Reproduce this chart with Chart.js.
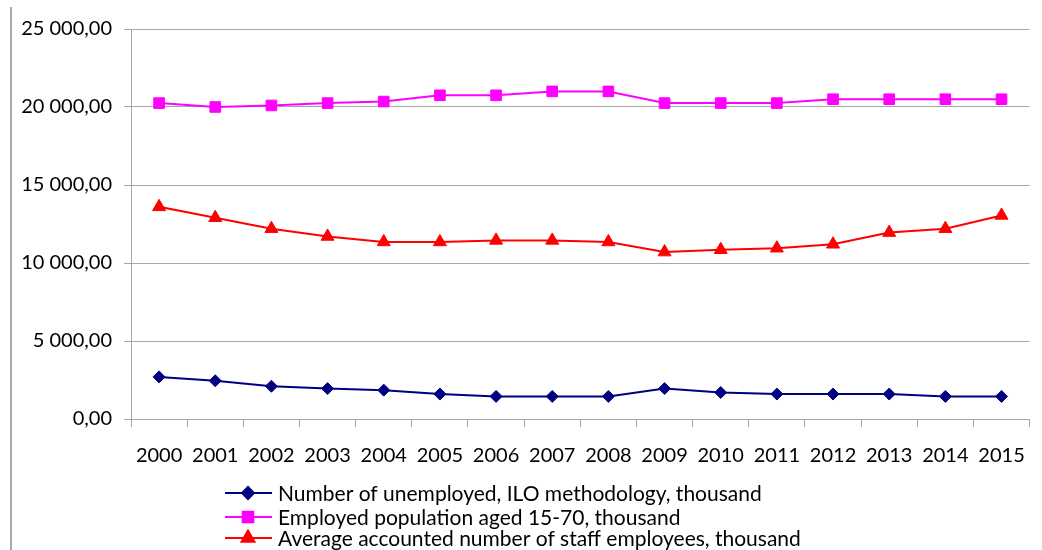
<!DOCTYPE html>
<html>
<head>
<meta charset="utf-8">
<script src="https://cdn.jsdelivr.net/npm/chart.js@4.4.1/dist/chart.umd.min.js"></script>
<style>
  html, body { margin: 0; padding: 0; background: #fff; }
  canvas { display: block; }
</style>
</head>
<body>
<canvas id="myChart" width="1042" height="550"></canvas>
<script>
const years = ["2000", "2001", "2002", "2003", "2004", "2005", "2006", "2007",
  "2008", "2009", "2010", "2011", "2012", "2013", "2014", "2015"];
const unemployed = [2700, 2450, 2100, 1950, 1850, 1600, 1450, 1450, 1450, 1950, 1700, 1600, 1600, 1600, 1450, 1450];
const employed = [20250, 20000, 20100, 20250, 20350, 20750, 20750, 21000, 21000, 20250, 20250, 20250, 20500, 20500, 20500, 20500];
const staff = [13600, 12900, 12200, 11700, 11350, 11350, 11450, 11450, 11350, 10700, 10850, 10950, 11200, 11950, 12200, 13050];
const yTicks = [0, 5000, 10000, 15000, 20000, 25000];
const seriesNames = [
  "Number of unemployed, ILO methodology, thousand",
  "Employed population aged 15-70, thousand",
  "Average accounted number of staff employees, thousand"
];

const gridColor = "#a6a6a6";
const fontFamily = "Lato, Calibri, 'Open Sans', sans-serif";

// "25 000,00" style: space for thousands, comma for decimals
function fmt(v) {
  return String(v).replace(/\B(?=(\d{3})+(?!\d))/g, " ") + ",00";
}

// frame line on the left side of the chart
const framePlugin = {
  id: "frame",
  beforeDraw(chart) {
    const ctx = chart.ctx;
    ctx.save();
    ctx.strokeStyle = "#8c8c8c";
    ctx.lineWidth = 1.5;
    ctx.beginPath();
    ctx.moveTo(11, 7);
    ctx.lineTo(11, 550);
    ctx.stroke();
    ctx.restore();
  }
};

// legend stacked in rows under the x axis
const rowLegend = {
  id: "rowLegend",
  afterDraw(chart) {
    const ctx = chart.ctx;
    const rows = [493, 517, 538];
    chart.data.datasets.forEach((ds, i) => {
      const y = rows[i];
      ctx.save();
      ctx.strokeStyle = ds.borderColor;
      ctx.lineWidth = 2;
      ctx.beginPath();
      ctx.moveTo(225, y);
      ctx.lineTo(272, y);
      ctx.stroke();
      ctx.fillStyle = ds.pointBackgroundColor;
      ctx.strokeStyle = ds.pointBorderColor;
      Chart.helpers.drawPoint(ctx, {
        pointStyle: ds.pointStyle, radius: ds.pointRadius, rotation: 0, borderWidth: 1
      }, 248, y);
      ctx.fillStyle = "#000";
      ctx.font = "21px " + fontFamily;
      ctx.textBaseline = "middle";
      ctx.fillText(ds.label, 278, y + 1);
      ctx.restore();
    });
  }
};

new Chart("myChart", {
  type: "line",
  data: {
    labels: years,
    datasets: [{
      label: seriesNames[0],
      data: unemployed,
      borderColor: "#000080",
      pointBackgroundColor: "#000080",
      pointBorderColor: "#000080",
      pointStyle: "rectRot",
      pointRadius: 6
    }, {
      label: seriesNames[1],
      data: employed,
      borderColor: "#ff00ff",
      pointBackgroundColor: "#ff00ff",
      pointBorderColor: "#ff00ff",
      pointStyle: "rect",
      pointRadius: 7.5
    }, {
      label: seriesNames[2],
      data: staff,
      borderColor: "#ff0000",
      pointBackgroundColor: "#ff0000",
      pointBorderColor: "#ff0000",
      pointStyle: "triangle",
      pointRadius: 7.5
    }]
  },
  options: {
    responsive: false,
    animation: false,
    layout: { padding: { left: 0, top: 29, right: 7, bottom: 80 } },
    elements: {
      line: { borderWidth: 2, tension: 0 },
      point: { borderWidth: 1, hoverRadius: 7 }
    },
    plugins: {
      legend: { display: false },
      tooltip: { enabled: false }
    },
    scales: {
      x: {
        offset: true,
        grid: { display: true, drawOnChartArea: false, offset: true, color: gridColor, tickLength: 8 },
        border: { color: gridColor },
        ticks: { color: "#000", padding: 17, maxRotation: 0, font: { family: fontFamily, size: 20 } },
        afterFit(scale) { scale.height = 51; }
      },
      y: {
        min: 0,
        max: 25000,
        grid: { color: gridColor, tickLength: 7 },
        border: { color: gridColor },
        ticks: {
          color: "#000",
          padding: 12,
          font: { family: fontFamily, size: 20 },
          callback: v => fmt(v)
        },
        afterBuildTicks(scale) { scale.ticks = yTicks.map(v => ({ value: v })); },
        afterFit(scale) { scale.width = 131; }
      }
    }
  },
  plugins: [framePlugin, rowLegend]
});
</script>
</body>
</html>
